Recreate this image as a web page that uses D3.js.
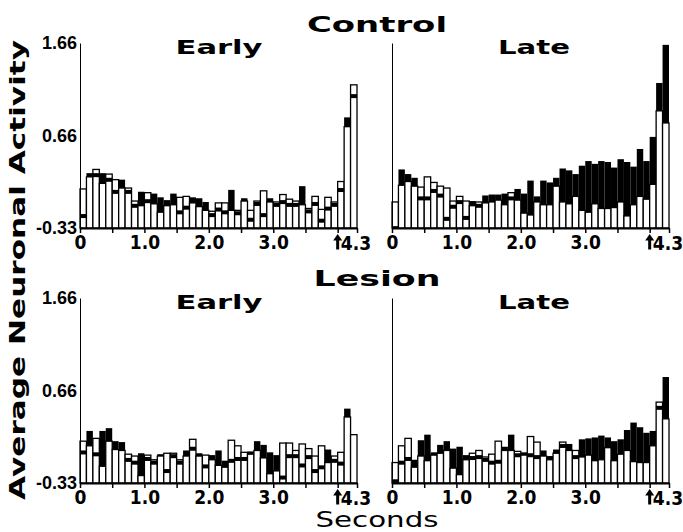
<!DOCTYPE html>
<html>
<head>
<meta charset="utf-8">
<script src="https://cdn.jsdelivr.net/npm/d3@7"></script>
<style>
  body { margin: 0; background: #fff; }
  svg { display: block; }
</style>
</head>
<body>
<div id="chart"></div>
<script>
// 0.1 s bins from 0 to 4.3 s
var binStarts = d3.range(43).map(function (i) { return i / 10; });

var yTicks = [-0.33, 0.66, 1.66];
var xTickMarks = [0, 0.5, 1, 1.5, 2, 2.5, 3, 3.5, 4, 4.3];
var xTickLabels = { 0: "0", 1: "1.0", 2: "2.0", 3: "3.0" };
var endTime = 4.3;
var eventTime = 4.0;

// open (white) and filled (black) bars for each panel
var controlEarlyOpen = [0.09, 0.22, 0.30, 0.15, 0.25, 0.19, 0.10, 0.10, -0.04, -0.09,
  0.05, -0.07, -0.16, -0.09, -0.08, 0.00, 0.01, -0.06, -0.10, -0.14,
  -0.15, -0.06, -0.06, -0.14, -0.14, -0.04, -0.14, -0.04, 0.07, -0.05,
  -0.05, 0.03, -0.02, -0.04, -0.08, -0.12, 0.01, -0.13, 0.00, -0.05,
  0.17, 0.76, 1.21];
var controlEarlyFilled = [-0.18, 0.26, 0.26, 0.26, 0.21, 0.08, 0.19, 0.08, -0.07, 0.06,
  -0.02, 0.04, 0.00, -0.03, 0.04, -0.14, -0.09, 0.00, -0.01, -0.05,
  -0.17, -0.11, -0.14, 0.08, -0.15, -0.01, -0.22, -0.05, -0.17, -0.01,
  -0.06, -0.03, -0.06, -0.06, 0.12, -0.13, -0.05, -0.23, -0.10, -0.06,
  0.10, 0.86, 1.11];

var controlLateOpen = [-0.05, 0.13, 0.17, 0.12, 0.11, 0.22, 0.16, 0.12, 0.10, -0.04,
  0.01, -0.04, -0.09, -0.05, -0.06, -0.05, -0.03, -0.08, 0.05, -0.03,
  -0.17, -0.19, -0.05, -0.08, -0.08, 0.12, -0.05, -0.07, 0.01, -0.14,
  -0.16, -0.07, -0.12, -0.12, -0.11, -0.05, -0.20, -0.08, 0.01, -0.02,
  0.14, 0.93, 0.80];
var controlLateFilled = [-0.31, 0.30, 0.25, 0.21, 0.01, 0.01, 0.09, 0.04, -0.21, -0.08,
  -0.03, -0.20, -0.04, -0.07, 0.02, 0.03, 0.03, 0.04, 0.01, 0.09,
  0.04, 0.18, 0.01, 0.18, 0.16, 0.21, 0.31, 0.29, 0.25, 0.34,
  0.39, 0.36, 0.39, 0.38, 0.32, 0.41, 0.38, 0.33, 0.52, 0.39,
  0.65, 1.23, 1.64];

var lesionEarlyOpen = [0.12, 0.07, 0.15, -0.15, 0.12, 0.03, 0.02, -0.02, -0.04, -0.25,
  -0.03, -0.08, -0.04, -0.01, -0.01, -0.08, -0.04, 0.14, -0.04, -0.03,
  -0.08, -0.14, -0.16, 0.13, 0.07, 0.00, -0.02, 0.02, -0.06, -0.23,
  -0.20, 0.10, 0.10, 0.02, 0.09, 0.04, -0.04, 0.07, -0.11, -0.04,
  0.00, 0.38, 0.19];
var lesionEarlyFilled = [0.02, 0.23, 0.00, 0.23, 0.26, 0.12, 0.11, -0.06, -0.09, -0.01,
  -0.05, -0.09, -0.02, -0.18, -0.02, -0.09, 0.02, 0.06, -0.01, -0.13,
  -0.03, 0.02, -0.09, -0.07, -0.05, -0.05, 0.01, 0.12, 0.08, 0.00,
  -0.03, -0.25, -0.02, -0.02, -0.12, -0.03, -0.18, -0.14, 0.03, -0.07,
  -0.10, 0.47, 0.19];

var lesionLateOpen = [-0.11, 0.07, 0.15, -0.16, -0.04, -0.09, -0.03, -0.01, 0.02, -0.17,
  -0.24, -0.08, -0.01, 0.02, -0.05, -0.02, 0.12, 0.02, 0.02, 0.01,
  -0.03, 0.17, 0.11, -0.04, -0.08, -0.01, 0.11, 0.02, 0.02, -0.05,
  -0.03, -0.09, -0.08, 0.05, -0.09, -0.02, 0.02, -0.10, -0.11, -0.11,
  0.07, 0.54, 0.36];
var lesionLateFilled = [-0.29, -0.09, -0.05, -0.08, 0.13, 0.19, 0.00, 0.08, 0.12, 0.04,
  0.06, -0.03, -0.04, -0.03, -0.06, -0.09, -0.08, 0.06, 0.19, -0.01,
  0.00, -0.01, -0.03, 0.02, -0.04, 0.03, 0.09, 0.09, -0.03, 0.14,
  0.15, 0.16, 0.18, 0.16, 0.12, 0.14, 0.24, 0.32, 0.27, 0.21,
  0.23, 0.50, 0.81];

var width = 683, height = 532;
var panelW = 277, panelH = 185;
var numFont = "'Liberation Sans', Arial, sans-serif";
var narrowFont = "'Liberation Sans Narrow', 'Arial Narrow', 'DejaVu Sans Condensed', sans-serif";
var heavyFont = "'DejaVu Sans', 'Liberation Sans', sans-serif";

var svg = d3.select("#chart").append("svg")
  .attr("width", width).attr("height", height);
svg.append("rect").attr("width", width).attr("height", height).attr("fill", "#fff");

var panels = [
  { name: "Early", open: controlEarlyOpen, filled: controlEarlyFilled, x: 80, y: 43, labels: true },
  { name: "Late", open: controlLateOpen, filled: controlLateFilled, x: 392, y: 43, labels: false },
  { name: "Early", open: lesionEarlyOpen, filled: lesionEarlyFilled, x: 80, y: 298, labels: true },
  { name: "Late", open: lesionLateOpen, filled: lesionLateFilled, x: 392, y: 298, labels: false }
];

panels.forEach(function (p) {
  var xScale = d3.scaleLinear().domain([0, 4.3]).range([p.x, p.x + panelW]);
  var yScale = d3.scaleLinear().domain([-0.33, 1.66]).range([p.y + panelH, p.y]);
  var base = yScale(-0.33);
  var g = svg.append("g");

  var data = binStarts.map(function (t, i) {
    return { t: t, open: p.open[i], filled: p.filled[i] };
  });
  var bx = function (d) { return xScale(d.t); };
  var bw = function (d) { return xScale(d.t + 0.1) - xScale(d.t); };

  // black bars behind
  g.selectAll("rect.filled").data(data).join("rect")
    .attr("class", "filled")
    .attr("x", bx).attr("width", bw)
    .attr("y", function (d) { return yScale(d.filled); })
    .attr("height", function (d) { return base - yScale(d.filled); })
    .attr("fill", "#000");

  // white bars on top
  g.selectAll("rect.open").data(data).join("rect")
    .attr("class", "open")
    .attr("x", bx).attr("width", bw)
    .attr("y", function (d) { return yScale(d.open); })
    .attr("height", function (d) { return base - yScale(d.open); })
    .attr("fill", "#fff").attr("stroke", "#000").attr("stroke-width", 1.3);

  // black level mark where black is under the white bar
  g.selectAll("rect.band").data(data.filter(function (d) { return d.filled < d.open; })).join("rect")
    .attr("class", "band")
    .attr("x", bx).attr("width", bw)
    .attr("y", function (d) { return yScale(d.filled); })
    .attr("height", function (d) { return Math.min(4, base - yScale(d.filled)); })
    .attr("fill", "#000");

  // x axis
  var xAxis = d3.axisBottom(xScale)
    .tickValues(xTickMarks)
    .tickSize(5).tickSizeOuter(0).tickPadding(3)
    .tickFormat(function (d) { return xTickLabels[d] || ""; });
  var xg = svg.append("g").attr("transform", "translate(0," + base + ")").call(xAxis);
  xg.select(".domain").attr("stroke-width", 2);
  xg.selectAll(".tick line").attr("stroke-width", 1.5);
  xg.selectAll("text")
    .attr("font-family", narrowFont).attr("font-weight", "bold")
    .attr("font-size", 19).attr("fill", "#000");

  // end-of-trial label
  svg.append("text")
    .attr("x", xScale(endTime) - 1).attr("y", base + 22)
    .attr("text-anchor", "middle")
    .attr("font-family", narrowFont).attr("font-weight", "bold").attr("font-size", 19)
    .text("4.3");

  // event arrow
  var ax = xScale(eventTime);
  svg.append("path")
    .attr("d", "M" + ax + "," + (base + 6) + "l-4.5,6.5h3v9h3v-9h3z")
    .attr("fill", "#000");

  // y axis
  var yAxis = d3.axisLeft(yScale)
    .tickValues(p.labels ? yTicks : [])
    .tickSize(0).tickSizeOuter(0).tickPadding(3)
    .tickFormat(function (d) { return d.toFixed(2); });
  var yg = svg.append("g").attr("transform", "translate(" + p.x + ",0)").call(yAxis);
  yg.select(".domain").attr("stroke-width", 1);
  yg.selectAll("text")
    .attr("font-family", numFont).attr("font-weight", "bold")
    .attr("font-size", 18).attr("fill", "#000");

  // panel title
  svg.append("text")
    .attr("x", p.x + (p.labels ? 139 : 142)).attr("y", p.y + 11)
    .attr("text-anchor", "middle")
    .attr("font-family", heavyFont).attr("font-weight", "bold").attr("font-size", 20)
    .attr("textLength", p.name === "Early" ? 87 : 72).attr("lengthAdjust", "spacingAndGlyphs")
    .text(p.name);
});

// group titles
[["Control", 32], ["Lesion", 286]].forEach(function (t) {
  svg.append("text")
    .attr("x", 377).attr("y", t[1])
    .attr("text-anchor", "middle")
    .attr("font-family", heavyFont).attr("font-weight", "bold").attr("font-size", 21)
    .attr("textLength", t[0] === "Control" ? 140 : 127).attr("lengthAdjust", "spacingAndGlyphs")
    .text(t[0]);
});

// axis titles
svg.append("text")
  .attr("transform", "translate(25,270) rotate(-90)")
  .attr("text-anchor", "middle")
  .attr("font-family", heavyFont).attr("font-weight", "bold").attr("font-size", 22)
  .attr("textLength", 460).attr("lengthAdjust", "spacingAndGlyphs")
  .text("Average Neuronal Activity");

svg.append("text")
  .attr("x", 377).attr("y", 527)
  .attr("text-anchor", "middle")
  .attr("font-family", heavyFont).attr("font-size", 21)
  .attr("textLength", 123).attr("lengthAdjust", "spacingAndGlyphs")
  .text("Seconds");
</script>
</body>
</html>
